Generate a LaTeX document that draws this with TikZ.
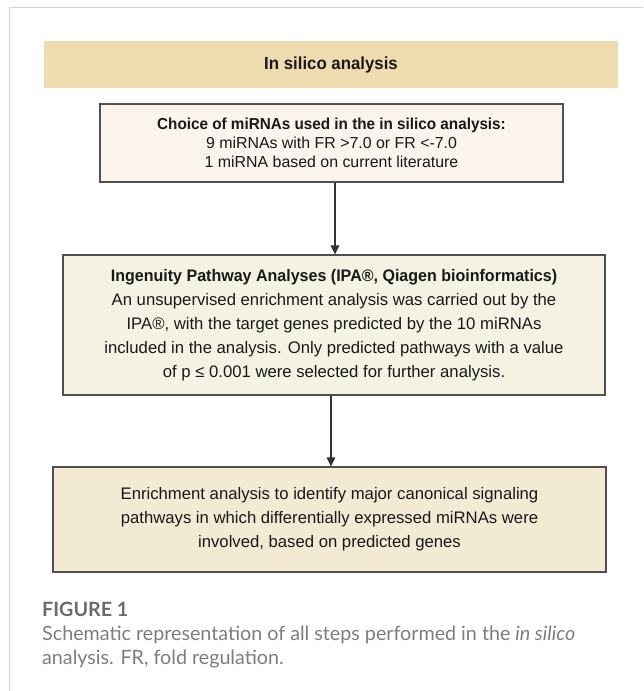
\documentclass[tikz,border=0pt]{standalone}
\usepackage{fontspec}
\setmainfont{Liberation Sans}[BoldFeatures={FakeStretch=0.96}]
\newfontfamily\capfont{Lato}
\usetikzlibrary{arrows.meta}
\definecolor{framec}{HTML}{D4D4D4}
\definecolor{bannerc}{HTML}{EEDCB0}
\definecolor{boxa}{HTML}{FAF4EC}
\definecolor{boxb}{HTML}{F4F3E3}
\definecolor{boxc}{HTML}{F3EAD4}
\definecolor{edgec}{HTML}{505050}
\definecolor{arrc}{HTML}{333333}
\definecolor{capa}{HTML}{6B6B6B}
\definecolor{capb}{HTML}{7D7D7D}
\begin{document}
\begin{tikzpicture}[x=1pt,y=-1pt,
  stepbox/.style={draw=edgec, line width=1.1pt, align=center, inner sep=0pt, text=black!90},
  bannerbox/.style={fill=bannerc, inner sep=0pt, text=black!90},
  arr/.style={draw=arrc, line width=1.3pt, -{Triangle[length=9pt,width=8.5pt]}},
  captext/.style={anchor=base west, inner sep=0pt, font=\capfont\fontsize{19.7}{24}\selectfont}
]
\useasboundingbox (0,0) rectangle (643,691);
\draw[framec, line width=1.2pt] (9.5,691) -- (9.5,7.5) -- (643,7.5);
\node[bannerbox, minimum width=574pt, minimum height=47pt,
  font=\fontsize{17.5}{20}\selectfont\bfseries] (banner) at (331,64.5) {In silico analysis};
\node[stepbox, fill=boxa, minimum width=463pt, minimum height=78pt,
  font=\fontsize{15.9}{18.7}\selectfont] (box1) at (331.5,143)
  {\textbf{Choice of miRNAs used in the in silico analysis:}\\
   9 miRNAs with FR >7.0 or FR <-7.0\\
   1 miRNA based on current literature};
\node[stepbox, fill=boxb, minimum width=542pt, minimum height=140pt,
  font=\fontsize{16.7}{24}\selectfont] (box2) at (334,325)
  {\textbf{Ingenuity Pathway Analyses (IPA®, Qiagen bioinformatics)}\\
   An unsupervised enrichment analysis was carried out by the\\
   IPA®, with the target genes predicted by the 10 miRNAs\\
   included in the analysis. Only predicted pathways with a value\\
   of p ≤ 0.001 were selected for further analysis.};
\node[stepbox, fill=boxc, minimum width=553pt, minimum height=105pt,
  font=\fontsize{16.7}{24}\selectfont] (box3) at (329.5,519.5)
  {Enrichment analysis to identify major canonical signaling\\
   pathways in which differentially expressed miRNAs were\\
   involved, based on predicted genes};
\coordinate (a1) at (335,0);
\coordinate (a2) at (331,0);
\draw[arr] (box1.south -| a1) -- (box2.north -| a1);
\draw[arr] (box2.south -| a2) -- (box3.north -| a2);
\node[captext, text=capa, font=\capfont\fontsize{19.7}{24}\selectfont\bfseries] (cap1) at (42,616) {FIGURE 1};
\node[captext, text=capb] (cap2) at (42,640) {Schematic representation of all steps performed in the \textit{in silico}};
\node[captext, text=capb] (cap3) at (42,664) {analysis. FR, fold regulation.};
\end{tikzpicture}
\end{document}
